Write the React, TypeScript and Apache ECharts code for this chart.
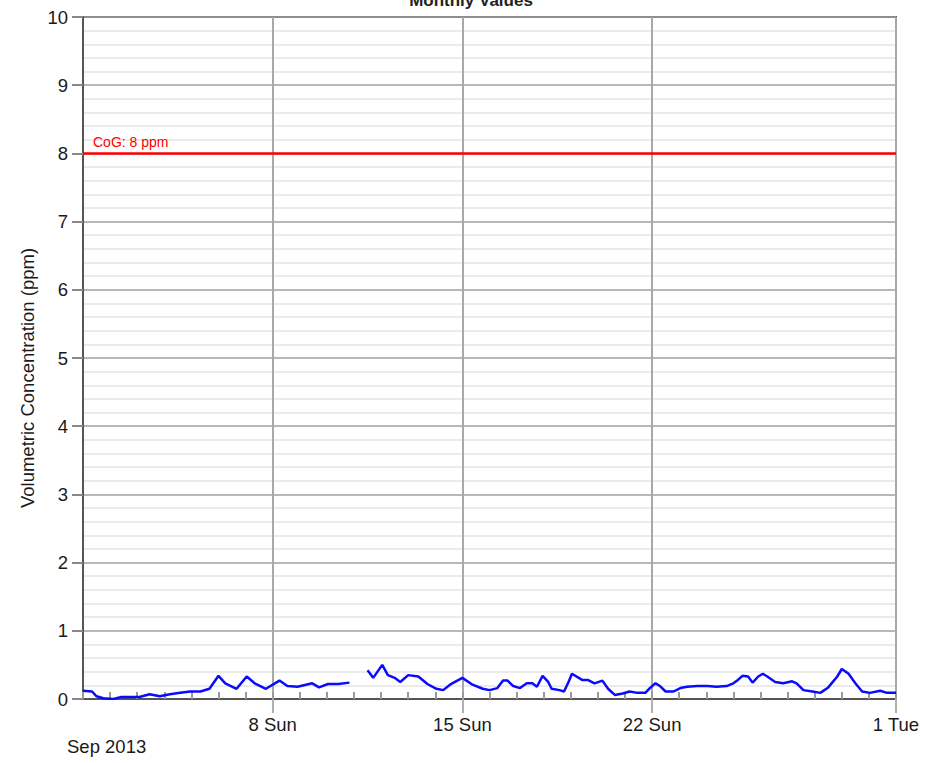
import React, { useEffect, useRef } from "react";
import * as echarts from "echarts";

const chartTitle = "Monthly Values";
const yAxisName = "Volumetric Concentration (ppm)";
const monthLabel = "Sep 2013";
const limitLabel = "CoG: 8 ppm";
const limitValue = 8;

const dayLabels = [
  "1 Sun", "2 Mon", "3 Tue", "4 Wed", "5 Thu", "6 Fri", "7 Sat",
  "8 Sun", "9 Mon", "10 Tue", "11 Wed", "12 Thu", "13 Fri", "14 Sat",
  "15 Sun", "16 Mon", "17 Tue", "18 Wed", "19 Thu", "20 Fri", "21 Sat",
  "22 Sun", "23 Mon", "24 Tue", "25 Wed", "26 Thu", "27 Fri", "28 Sat",
  "29 Sun", "30 Mon", "1 Tue",
];
const majorDayIndices = [7, 14, 21, 30];

const times = [
  "2013-09-01 00:00", "2013-09-01 08:00", "2013-09-01 12:00", "2013-09-01 18:00",
  "2013-09-02 03:00", "2013-09-02 10:00", "2013-09-02 18:00", "2013-09-03 02:00",
  "2013-09-03 11:00", "2013-09-03 20:00", "2013-09-04 05:00", "2013-09-04 14:00",
  "2013-09-04 23:00", "2013-09-05 08:00", "2013-09-05 16:00", "2013-09-06 00:00",
  "2013-09-06 06:00", "2013-09-06 16:00", "2013-09-07 01:00", "2013-09-07 08:00",
  "2013-09-07 18:00", "2013-09-08 06:00", "2013-09-08 13:00", "2013-09-08 22:00",
  "2013-09-09 11:00", "2013-09-09 17:00", "2013-09-10 01:00", "2013-09-10 10:00",
  "2013-09-10 20:00", "2013-09-11 04:00",
  "2013-09-11 12:00", "2013-09-11 17:00", "2013-09-12 01:00", "2013-09-12 06:00",
  "2013-09-12 12:00", "2013-09-12 17:00", "2013-09-13 00:00", "2013-09-13 09:00",
  "2013-09-13 17:00", "2013-09-14 01:00", "2013-09-14 07:00", "2013-09-14 13:00",
  "2013-09-15 00:00", "2013-09-15 09:00", "2013-09-15 18:00", "2013-09-16 00:00",
  "2013-09-16 07:00", "2013-09-16 12:00", "2013-09-16 16:00", "2013-09-16 21:00",
  "2013-09-17 03:00", "2013-09-17 09:00", "2013-09-17 14:00", "2013-09-17 18:00",
  "2013-09-17 23:00", "2013-09-18 04:00", "2013-09-18 07:00", "2013-09-18 14:00",
  "2013-09-18 18:00", "2013-09-18 22:00", "2013-09-19 01:00", "2013-09-19 10:00",
  "2013-09-19 15:00", "2013-09-19 21:00", "2013-09-20 04:00", "2013-09-20 09:00",
  "2013-09-20 15:00", "2013-09-20 22:00", "2013-09-21 04:00", "2013-09-21 11:00",
  "2013-09-21 18:00", "2013-09-21 22:00", "2013-09-22 03:00", "2013-09-22 07:00",
  "2013-09-22 12:00", "2013-09-22 19:00", "2013-09-23 01:00", "2013-09-23 07:00",
  "2013-09-23 16:00", "2013-09-24 01:00", "2013-09-24 09:00", "2013-09-24 18:00",
  "2013-09-25 00:00", "2013-09-25 04:00", "2013-09-25 08:00", "2013-09-25 13:00",
  "2013-09-25 17:00", "2013-09-25 22:00", "2013-09-26 02:00", "2013-09-26 06:00",
  "2013-09-26 13:00", "2013-09-26 20:00", "2013-09-27 04:00", "2013-09-27 08:00",
  "2013-09-27 14:00", "2013-09-27 22:00", "2013-09-28 05:00", "2013-09-28 12:00",
  "2013-09-28 20:00", "2013-09-29 00:00", "2013-09-29 06:00", "2013-09-29 12:00",
  "2013-09-29 18:00", "2013-09-30 01:00", "2013-09-30 10:00", "2013-09-30 16:00",
  "2013-10-01 00:00",
];

const values: (number | null)[] = [
  0.12, 0.11, 0.04, 0.01,
  0.0, 0.03, 0.03, 0.03,
  0.07, 0.04, 0.07, 0.09,
  0.11, 0.11, 0.15, 0.34,
  0.23, 0.15, 0.33, 0.23,
  0.15, 0.27, 0.19, 0.18,
  0.23, 0.17, 0.22, 0.22,
  0.24, null,
  0.42, 0.31, 0.5, 0.35,
  0.31, 0.25, 0.35, 0.33,
  0.22, 0.15, 0.13, 0.21,
  0.31, 0.21, 0.15, 0.13,
  0.16, 0.27, 0.27, 0.19,
  0.16, 0.23, 0.23, 0.18,
  0.34, 0.25, 0.15, 0.13,
  0.11, 0.25, 0.37, 0.28,
  0.28, 0.23, 0.27, 0.15,
  0.06, 0.08, 0.11, 0.09,
  0.09, 0.16, 0.23, 0.19,
  0.11, 0.11, 0.16, 0.18,
  0.19, 0.19, 0.18, 0.19,
  0.23, 0.28, 0.34, 0.33,
  0.24, 0.33, 0.37, 0.33,
  0.25, 0.23, 0.26, 0.23,
  0.13, 0.11, 0.09, 0.17,
  0.33, 0.44, 0.37, 0.23,
  0.11, 0.09, 0.12, 0.09,
  0.09,
];

const FONT = "Liberation Sans, Arial, sans-serif";

export default function App() {
  const ref = useRef<HTMLDivElement>(null);

  useEffect(() => {
    if (!ref.current) return;
    const chart = echarts.init(ref.current, null, { renderer: "svg" });
    const seriesData = times.map((t, i) => [t, values[i] === null ? "-" : values[i]]);

    chart.setOption({
      animation: false,
      backgroundColor: "#ffffff",
      textStyle: { fontFamily: FONT },
      title: {
        text: chartTitle,
        left: "center",
        top: -13,
        textStyle: { fontFamily: FONT, fontSize: 17, fontWeight: "bold", color: "#222" },
      },
      grid: {
        left: 83,
        right: 46,
        top: 17,
        bottom: 64,
        show: true,
        borderColor: "#555",
        borderWidth: 2,
        containLabel: false,
      },
      xAxis: [
        {
          type: "time",
          position: "bottom",
          min: times[0],
          max: times[times.length - 1],
          show: false,
        },
        {
          type: "category",
          position: "bottom",
          data: dayLabels,
          boundaryGap: false,
          axisLine: { show: true, lineStyle: { color: "#555", width: 2 } },
          axisTick: {
            show: true,
            inside: true,
            length: 7,
            interval: 0,
            lineStyle: { color: "#999", width: 2 },
          },
          axisLabel: { show: false },
          splitLine: {
            show: true,
            interval: (index: number) => majorDayIndices.includes(index),
            lineStyle: { color: "#a8a8a8", width: 2 },
          },
        },
        {
          type: "category",
          position: "bottom",
          data: dayLabels,
          boundaryGap: false,
          axisLine: { show: false },
          axisTick: {
            show: true,
            inside: false,
            length: 14,
            interval: (index: number) => majorDayIndices.includes(index),
            lineStyle: { color: "#b0b0b0", width: 2 },
          },
          axisLabel: {
            show: true,
            interval: (index: number) => majorDayIndices.includes(index),
            margin: 16,
            fontSize: 18.5,
            color: "#1a1a1a",
            fontFamily: FONT,
          },
          splitLine: { show: false },
        },
      ],
      yAxis: {
        type: "value",
        min: 0,
        max: 10,
        interval: 1,
        name: yAxisName,
        nameLocation: "middle",
        nameGap: 46,
        nameTextStyle: {
          fontSize: 18.5,
          color: "#1a1a1a",
          fontFamily: FONT,
          padding: [0, 40, 0, 0],
        },
        axisLine: { show: true, lineStyle: { color: "#555", width: 2 } },
        axisTick: { show: true, length: 11, lineStyle: { color: "#888", width: 2 } },
        axisLabel: { fontSize: 18.5, color: "#1a1a1a", margin: 15, fontFamily: FONT },
        splitLine: { show: true, lineStyle: { color: "#a0a0a0", width: 1.5 } },
        minorTick: { show: false, splitNumber: 5 },
        minorSplitLine: { show: true, lineStyle: { color: "#ebebeb", width: 2 } },
      },
      series: [
        {
          type: "line",
          xAxisIndex: 0,
          data: seriesData,
          showSymbol: false,
          symbol: "none",
          connectNulls: false,
          lineStyle: { color: "#0a0aff", width: 2.5 },
          z: 5,
          markLine: {
            silent: true,
            symbol: "none",
            data: [{ yAxis: limitValue }],
            lineStyle: { color: "#ff0000", width: 2.5, type: "solid" },
            label: {
              show: true,
              position: "insideStartTop",
              formatter: limitLabel,
              color: "#ff0000",
              fontSize: 14,
              fontFamily: FONT,
              distance: [10, 4],
            },
          },
        },
      ],
      graphic: [
        {
          type: "text",
          left: 67,
          top: 737,
          style: { text: monthLabel, fontSize: 18.5, fill: "#1a1a1a", fontFamily: FONT },
        },
      ],
    });

    return () => chart.dispose();
  }, []);

  return (
    <div
      ref={ref}
      style={{ position: "fixed", left: 0, top: 0, width: 942, height: 763 }}
    />
  );
}
